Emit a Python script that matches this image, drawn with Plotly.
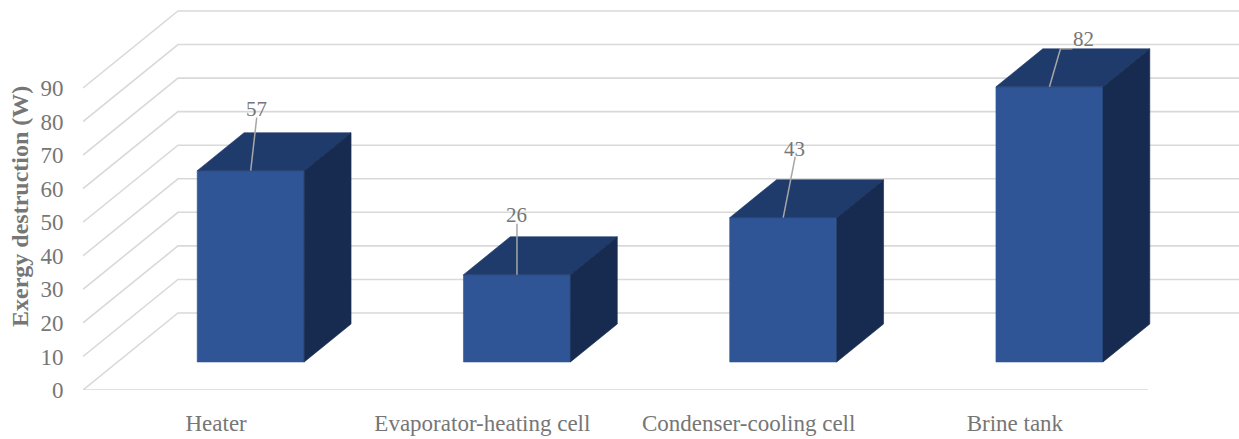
import plotly.graph_objects as go

# ---- data ----
categories = ["Heater", "Evaporator-heating cell", "Condenser-cooling cell", "Brine tank"]
values = [57, 26, 43, 82]
y_ticks = [0, 10, 20, 30, 40, 50, 60, 70, 80, 90]
y_title = "Exergy destruction (W)"

# ---- geometry / style (pixel scale of the projection) ----
PX = 266.25          # px per category unit
PY = 3.356           # px per value unit
KX = 95 / PX         # horizontal shift of full floor depth (category units)
KZ = 77 / PY         # vertical shift of full floor depth (value units)
HW = 107 / PX / 2    # half bar width
ZF, ZB = 0.364, 0.857
XMIN, XMAX = -0.5, -0.5 + 1156 / PX
YMAX = 390 / PY

C_FRONT = "#2F5597"
C_TOP = "#1F3B6C"
C_SIDE = "#172B50"
C_GRID = "#D9D9D9"
C_TEXT = "#767676"
FONT = "Liberation Serif"

# label offsets relative to front-top centre of each bar (pixels): leader path, text centre
label_paths = [[(6, -53)], [(0, -51)], [(12, -61)], [(11, -38), (23, -38)]]
label_text = [(6, -62), (0, -60), (11, -69), (34, -48)]


def proj(x, v, z):
    return x + z * KX, v + z * KZ


fig = go.Figure()

# gridlines on side wall and back wall
for t in y_ticks:
    pts = [proj(XMIN, t, 0), proj(XMIN, t, 1), proj(3.5, t, 1)]
    fig.add_trace(go.Scatter(x=[p[0] for p in pts], y=[p[1] for p in pts], mode="lines",
                             line=dict(color=C_GRID, width=1.6), hoverinfo="skip", showlegend=False))

# floor front edge (category axis line)
pts = [proj(XMIN, 0, 0), proj(3.5, 0, 0)]
fig.add_trace(go.Scatter(x=[p[0] for p in pts], y=[p[1] for p in pts], mode="lines",
                         line=dict(color=C_GRID, width=1.6), hoverinfo="skip", showlegend=False))


def poly(pts, color):
    xs = [p[0] for p in pts] + [pts[0][0]]
    ys = [p[1] for p in pts] + [pts[0][1]]
    fig.add_trace(go.Scatter(x=xs, y=ys, mode="lines", fill="toself", fillcolor=color,
                             line=dict(color=color, width=0.6), hoverinfo="skip", showlegend=False))


annotations = []
for i, v in enumerate(values):
    l, r = i - HW, i + HW
    poly([proj(l, 0, ZF), proj(r, 0, ZF), proj(r, v, ZF), proj(l, v, ZF)], C_FRONT)
    poly([proj(l, v, ZF), proj(r, v, ZF), proj(r, v, ZB), proj(l, v, ZB)], C_TOP)
    poly([proj(r, 0, ZF), proj(r, 0, ZB), proj(r, v, ZB), proj(r, v, ZF)], C_SIDE)
    ax, ay = proj(i, v, ZF)
    path = [(ax, ay)] + [(ax + dx / PX, ay - dy / PY) for dx, dy in label_paths[i]]
    fig.add_trace(go.Scatter(x=[p[0] for p in path], y=[p[1] for p in path], mode="lines",
                             line=dict(color="#A6A6A6", width=1.5), hoverinfo="skip", showlegend=False))
    tx, ty = label_text[i]
    annotations.append(dict(x=ax + tx / PX, y=ay - ty / PY, xref="x", yref="y", text=str(v),
                            showarrow=False, font=dict(family=FONT, size=21, color=C_TEXT),
                            xanchor="center", yanchor="middle"))

annotations.append(dict(x=(20 - 83) / 1156, y=(390 - 207) / 390, xref="paper", yref="paper",
                        text="<b>" + y_title + "</b>", textangle=-90, showarrow=False,
                        font=dict(family=FONT, size=24, color=C_TEXT),
                        xanchor="center", yanchor="middle"))

fig.update_layout(
    width=1239, height=439,
    margin=dict(l=83, r=0, t=0, b=49),
    paper_bgcolor="white", plot_bgcolor="white",
    showlegend=False,
    annotations=annotations,
    xaxis=dict(range=[XMIN, XMAX], tickvals=list(range(len(categories))), ticktext=categories,
               showgrid=False, zeroline=False, showline=False, ticks="outside", ticklen=12,
               tickcolor="rgba(0,0,0,0)", tickfont=dict(family=FONT, size=23, color=C_TEXT),
               fixedrange=True),
    yaxis=dict(range=[0, YMAX], tickvals=y_ticks, ticktext=[str(t) for t in y_ticks],
               showgrid=False, zeroline=False, showline=False, ticks="outside", ticklen=14,
               tickcolor="rgba(0,0,0,0)", tickfont=dict(family=FONT, size=23, color=C_TEXT),
               fixedrange=True),
)

fig.write_html("out.html", config={"displayModeBar": False},
               post_script="document.body.style.margin='0';document.body.style.overflow='hidden';")
